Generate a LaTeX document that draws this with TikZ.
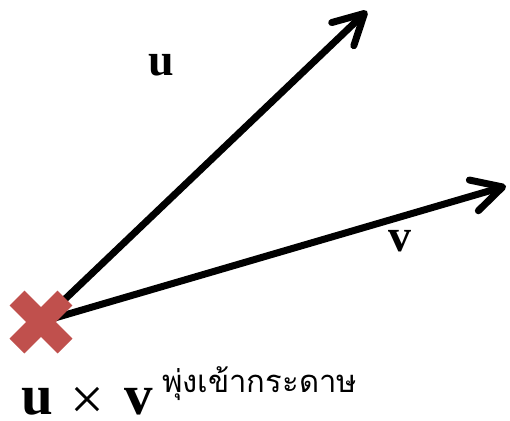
\documentclass[tikz,border=0pt]{standalone}
\usepackage{fontspec}
\setmainfont{Liberation Serif}
\newfontfamily\thaifont[Script=Thai]{Loma}
\usepackage{tikz}
\usetikzlibrary{arrows.meta,calc}
\usepackage{xcolor}
\definecolor{crossred}{HTML}{C0504D}

\begin{document}
\begin{tikzpicture}[
  x=1pt, y=-1pt,
  vec/.style={line width=7pt,-{Straight Barb[round,length=30pt,width=32pt]}},
  crossbar/.style={line width=21pt,crossred},
  lbl/.style={font=\fontsize{46}{50}\selectfont\bfseries,inner sep=0pt},
  thai/.style={font=\fontsize{31}{34}\selectfont\thaifont,inner sep=0pt}
]
\useasboundingbox (0,0) rectangle (510,420);
\def\arm{24}

% Origin and vector tips
\coordinate (O) at (41,322);
\coordinate (Utip) at (367,11);
\coordinate (Vtip) at (506,186);

% Vectors
\draw[vec] (O) -- (Utip);
\draw[vec] (O) -- (Vtip);

% Cross product marker (into the page)
\draw[crossbar] ($(O)+(-\arm,-\arm)$) -- ($(O)+(\arm,\arm)$);
\draw[crossbar] ($(O)+(-\arm,\arm)$) -- ($(O)+(\arm,-\arm)$);

% Labels
\node[lbl] (ulbl) at (161,65) {u};
\node[lbl] (vlbl) at (400,241) {v};
\node[lbl,anchor=base west,font=\fontsize{57}{60}\selectfont\bfseries] (uxv) at (21,414)
  {u\hspace{18pt}{\mdseries\fontsize{60}{60}\selectfont\raisebox{-5pt}{×}}\hspace{20pt}v};
\node[thai,anchor=base west] (into) at (162,392) {พุ่งเข้ากระดาษ};
\end{tikzpicture}
\end{document}
